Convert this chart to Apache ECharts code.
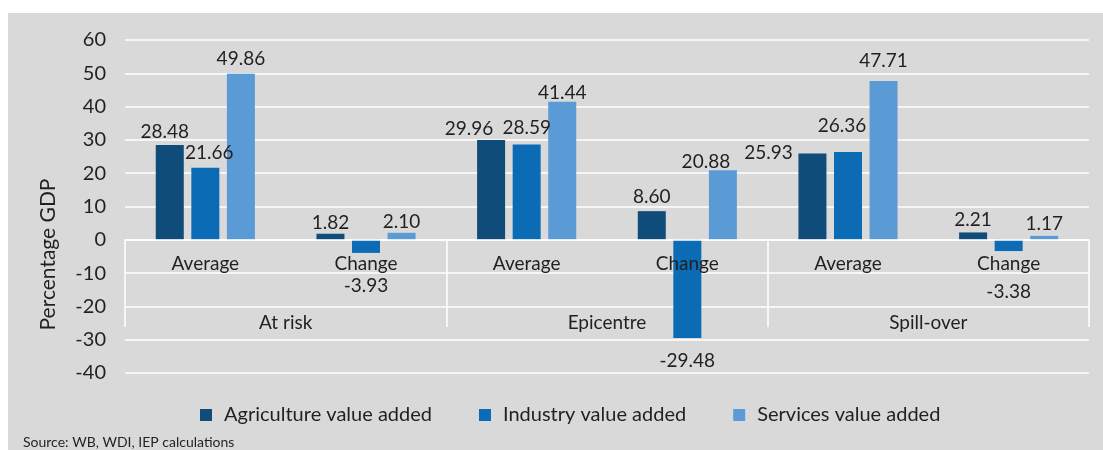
<html lang="en">

<head>
  <meta charset="UTF-8">
  <title>value added chart</title>
  <style>
    body { margin: 0; background: #ffffff; }
    #main { position: absolute; left: 8px; top: 13px; width: 1095px; height: 437px; }
  </style>
</head>

<body>
  <div id="main"></div>

  <script src="https://cdn.jsdelivr.net/npm/echarts@6/dist/echarts.min.js"></script>
  <script>
    var groups = ['At risk', 'Epicentre', 'Spill-over']
    var measures = ['Average', 'Change', 'Average', 'Change', 'Average', 'Change']
    var agriculture = [28.48, 1.82, 29.96, 8.60, 25.93, 2.21]
    var industry = [21.66, -3.93, 28.59, -29.48, 26.36, -3.38]
    var services = [49.86, 2.10, 41.44, 20.88, 47.71, 1.17]
    var yTicks = { min: -40, max: 60, step: 10 }

    // hand moved labels in the original (series -> data index -> [dx, dy])
    var labelNudge = {
      agri: { 0: [-5, 1], 1: [0, 4], 2: [-22, 3], 4: [-44, 14], 5: [0, 2] },
      ind: { 0: [4, 0], 1: [0, 18], 2: [0, -2], 3: [0, 8], 4: [-6, -12], 5: [0, 26] },
      serv: { 1: [0, 4], 2: [0, 6], 3: [-17, 6], 4: [0, -6], 5: [0, 2] }
    }

    var font = 'Lato, "Open Sans", sans-serif'
    var textColor = '#231f20'

    var makeSeries = function (name, key, color, vals) {
      var nudge = labelNudge[key] || {}
      return {
        name: name,
        type: 'bar',
        xAxisIndex: 0,
        barWidth: 28,
        barGap: '27%',
        itemStyle: { color: color },
        data: vals.map(function (v, i) {
          var item = { value: v, label: {} }
          if (v < 0) item.label.position = 'bottom'
          if (nudge[i]) item.label.offset = nudge[i]
          return item
        }),
        label: {
          show: true,
          position: 'top',
          distance: 5,
          color: textColor,
          fontFamily: font,
          fontSize: 19,
          formatter: function (p) { return p.value.toFixed(2) }
        }
      }
    }

    var option = {
      backgroundColor: '#d9d9d9',
      textStyle: { fontFamily: font },
      title: {
        text: 'Source: WB, WDI, IEP calculations',
        left: 10,
        top: 417,
        textStyle: { fontSize: 14, fontWeight: 'normal', color: textColor, fontFamily: font }
      },
      legend: {
        left: 187,
        top: 387,
        icon: 'rect',
        itemWidth: 12,
        itemHeight: 12,
        itemGap: 47,
        textStyle: { fontSize: 20, color: textColor, fontFamily: font, padding: [0, 0, 0, 7] },
        data: ['Agriculture value added', 'Industry value added', 'Services value added']
      },
      grid: { left: 117, right: 14, top: 27, bottom: 77, outerBoundsMode: 'none' },
      xAxis: [
        {
          type: 'category',
          data: measures,
          z: 3,
          offset: -133,
          axisLine: { onZero: false, lineStyle: { color: '#ffffff', width: 1.5 } },
          axisTick: { show: false },
          axisLabel: { color: textColor, fontSize: 19, margin: 14 }
        },
        {
          type: 'category',
          data: groups,
          position: 'bottom',
          z: 3,
          offset: -133,
          axisLine: { onZero: false, show: false },
          axisTick: { show: true, length: 87, lineStyle: { color: '#ffffff', width: 1.5 } },
          axisLabel: { color: textColor, fontSize: 19, margin: 73 }
        }
      ],
      yAxis: {
        type: 'value',
        min: yTicks.min,
        max: yTicks.max,
        interval: yTicks.step,
        name: 'Percentage GDP',
        nameLocation: 'middle',
        nameGap: 66,
        nameTextStyle: { fontSize: 21, color: textColor, padding: [0, 96, 0, 0] },
        axisLine: { show: false },
        axisTick: { show: false },
        axisLabel: { color: textColor, fontSize: 20, margin: 19 },
        splitLine: { lineStyle: { color: '#ffffff', width: 1.5 } }
      },
      series: [
        makeSeries('Agriculture value added', 'agri', '#0f4c7a', agriculture),
        makeSeries('Industry value added', 'ind', '#0b6bb5', industry),
        makeSeries('Services value added', 'serv', '#5b9bd5', services)
      ]
    }

    var chart = echarts.init(document.getElementById('main'))
    chart.setOption(option)
  </script>

</body>

</html>
